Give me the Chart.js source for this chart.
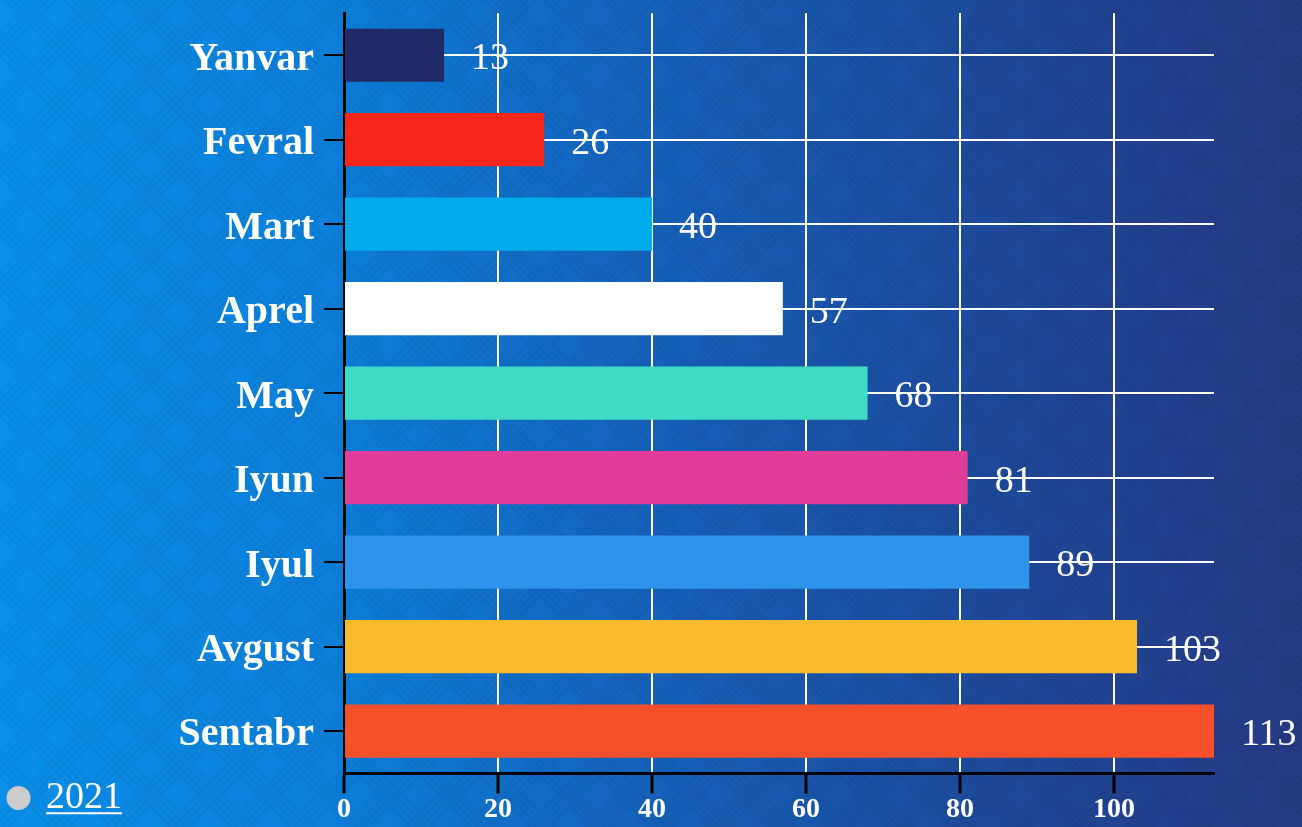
<!DOCTYPE html>
<html>
<head>
<meta charset="utf-8">
<script src="https://cdn.jsdelivr.net/npm/chart.js@4"></script>
<style>
  html, body { margin: 0; padding: 0; }
  body {
    width: 1302px;
    height: 827px;
    overflow: hidden;
    background: linear-gradient(to right, #0990ea 0%, #0b7fda 25%, #1561bb 50%, #1d4a9c 75%, #263a85 100%);
  }
  #wrap { position: relative; width: 1302px; height: 827px; }
</style>
</head>
<body>
<div id="wrap"><canvas id="chart"></canvas></div>
<script>
const months = ["Yanvar", "Fevral", "Mart", "Aprel", "May", "Iyun", "Iyul", "Avgust", "Sentabr"];
const values2021 = [13, 26, 40, 57, 68, 81, 89, 103, 113];
const barColors = ["#1f2a66", "#f6261b", "#00abec", "#ffffff", "#3fdcc5", "#e23c9a", "#2e93ea", "#f6ba2c", "#f6502b"];
const seriesName = "2021";

const serif = "'Liberation Serif', 'Times New Roman', serif";

// chevron background pattern (decoration only)
(function () {
  let d = "";
  const apexes = [[30, -60], [30, 0], [0, -30], [0, 30], [60, -30], [60, 30]];
  apexes.forEach(([cx, cy]) => {
    for (let k = 0; k < 4; k++) {
      const y = cy + 3 + k * 7.5;
      d += `M${cx - 30} ${y + 30}L${cx} ${y}L${cx + 30} ${y + 30}`;
    }
  });
  const svg = `<svg xmlns='http://www.w3.org/2000/svg' width='60' height='60'><path d='${d}' fill='none' stroke='rgba(0,0,0,0.045)' stroke-width='3'/></svg>`;
  document.body.style.background =
    `url("data:image/svg+xml,${encodeURIComponent(svg)}"), linear-gradient(to right, #0990ea 0%, #0b7fda 25%, #1561bb 50%, #1d4a9c 75%, #263a85 100%)`;
})();

// value labels to the right of each bar
const valueLabels = {
  id: "valueLabels",
  afterDatasetsDraw(chart) {
    const ctx = chart.ctx;
    const meta = chart.getDatasetMeta(0);
    ctx.save();
    ctx.fillStyle = "#ffffff";
    ctx.font = "38px " + serif;
    ctx.textAlign = "left";
    ctx.textBaseline = "middle";
    meta.data.forEach((bar, i) => {
      ctx.fillText(String(values2021[i]), bar.x + 27, bar.y + 4);
    });
    ctx.restore();
  }
};

// underline the legend text
const legendUnderline = {
  id: "legendUnderline",
  afterDraw(chart) {
    const lg = chart.legend;
    if (!lg || !lg.legendHitBoxes.length) return;
    const ctx = chart.ctx;
    const box = lg.legendHitBoxes[0];
    const opts = lg.options.labels;
    const fs = opts.font.size;
    ctx.save();
    ctx.font = fs + "px " + serif;
    const tw = ctx.measureText(lg.legendItems[0].text).width;
    const x0 = box.left + opts.boxWidth + fs / 2;
    const y = box.top + box.height / 2 + fs * 0.4;
    ctx.strokeStyle = "#ffffff";
    ctx.lineWidth = 2;
    ctx.beginPath();
    ctx.moveTo(x0, y);
    ctx.lineTo(x0 + tw, y);
    ctx.stroke();
    ctx.restore();
  }
};

new Chart(document.getElementById("chart"), {
  type: "bar",
  data: {
    labels: months,
    datasets: [{
      label: seriesName,
      data: values2021,
      backgroundColor: barColors,
      borderWidth: 0,
      barPercentage: 0.63,
      categoryPercentage: 1
    }]
  },
  options: {
    indexAxis: "y",
    responsive: true,
    maintainAspectRatio: false,
    animation: false,
    layout: { padding: { top: 13, right: 88, bottom: 0, left: 0 } },
    scales: {
      x: {
        min: 0,
        max: Math.max(...values2021),
        ticks: {
          stepSize: 20,
          includeBounds: false,
          color: "#ffffff",
          font: { family: serif, size: 28, weight: "bold" },
          padding: 0
        },
        grid: {
          color: "#ffffff",
          lineWidth: 2,
          tickColor: "#000000",
          tickLength: 20,
          tickWidth: 3
        },
        border: { color: "#000000", width: 3 }
      },
      y: {
        afterFit(scale) {
          scale.width = 212;
          scale.paddingTop = 0;
          scale.paddingBottom = 0;
        },
        ticks: {
          color: "#ffffff",
          font: { family: serif, size: 40, weight: "bold" },
          padding: 10,
          labelOffset: 4
        },
        grid: {
          offset: false,
          color: "#ffffff",
          lineWidth: 2,
          tickColor: "#000000",
          tickLength: 20,
          tickWidth: 2
        },
        border: { color: "#000000", width: 3 }
      }
    },
    plugins: {
      legend: {
        position: "left",
        align: "end",
        labels: {
          color: "#ffffff",
          font: { family: serif, size: 38 },
          usePointStyle: true,
          pointStyle: "circle",
          boxWidth: 17,
          boxHeight: 17,
          generateLabels(chart) {
            const items = Chart.defaults.plugins.legend.labels.generateLabels(chart);
            items.forEach(it => { it.fillStyle = "#cccccc"; it.strokeStyle = "#cccccc"; it.lineWidth = 0; });
            return items;
          }
        }
      },
      tooltip: { enabled: false }
    }
  },
  plugins: [valueLabels, legendUnderline]
});
</script>
</body>
</html>
